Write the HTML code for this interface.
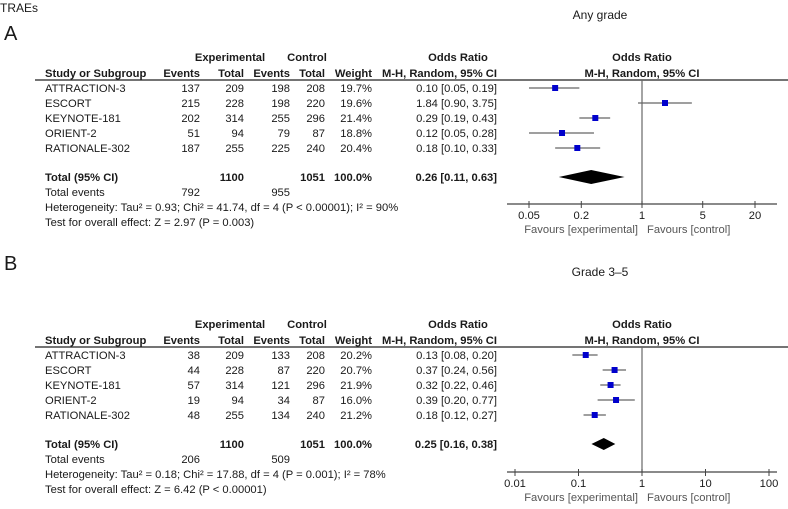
<!DOCTYPE html>
<html><head><meta charset="utf-8"><style>
body{margin:0;background:#fff;width:788px;height:504px;overflow:hidden}
svg text{font-family:"Liberation Sans",Arial,sans-serif;font-size:11.2px;fill:#1a1a1a}
.b{font-weight:bold}
</style></head><body>
<svg id="s" width="788" height="504" xmlns="http://www.w3.org/2000/svg">
<text x="0" y="12" style="font-size:12px">TRAEs</text>
<text x="4" y="40" style="font-size:20px">A</text>
<text x="600" y="19" text-anchor="middle" style="font-size:12px">Any grade</text>
<text x="4" y="270" style="font-size:20px">B</text>
<text x="600" y="276" text-anchor="middle" style="font-size:12px">Grade 3–5</text>
</svg>
<script>
const studies=["ATTRACTION-3","ESCORT","KEYNOTE-181","ORIENT-2","RATIONALE-302"];
const aExpEv=[137,215,202,51,187], aExpTot=[209,228,314,94,255], aCtlEv=[198,198,255,79,225], aCtlTot=[208,220,296,87,240];
const aWeight=["19.7%","19.6%","21.4%","18.8%","20.4%"];
const aOR=[0.10,1.84,0.29,0.12,0.18], aLo=[0.05,0.90,0.19,0.05,0.10], aHi=[0.19,3.75,0.43,0.28,0.33];
const aTotal=[0.26,0.11,0.63];
const aTicks=[0.05,0.2,1,5,20];
const bExpEv=[38,44,57,19,48], bExpTot=[209,228,314,94,255], bCtlEv=[133,87,121,34,134], bCtlTot=[208,220,296,87,240];
const bWeight=["20.2%","20.7%","21.9%","16.0%","21.2%"];
const bOR=[0.13,0.37,0.32,0.39,0.18], bLo=[0.08,0.24,0.22,0.20,0.12], bHi=[0.20,0.56,0.46,0.77,0.27];
const bTotal=[0.25,0.16,0.38];
const bTicks=[0.01,0.1,1,10,100];
const NS="http://www.w3.org/2000/svg", svg=document.getElementById('s');
function el(tag,attrs,txt){const e=document.createElementNS(NS,tag);for(const k in attrs)e.setAttribute(k,attrs[k]);if(txt!=null)e.textContent=txt;svg.appendChild(e);return e;}
function f2(v){return v.toFixed(2);}
function panel(p,y0,axY,ev,et,cv,ct,w,or,lo,hi,tot,ticks,lmax,pxMax,totE,totC,het,test){
  const X=v=>642+Math.log(v)/Math.log(lmax)*(pxMax-642);
  let t;
  t=el('text',{x:230,y:y0,'text-anchor':'middle',class:'b'},'Experimental');
  t=el('text',{x:307,y:y0,'text-anchor':'middle',class:'b'},'Control');
  t=el('text',{x:458,y:y0,'text-anchor':'middle',class:'b'},'Odds Ratio');
  t=el('text',{x:642,y:y0,'text-anchor':'middle',class:'b'},'Odds Ratio');
  const y1=y0+16;
  [['Study or Subgroup',45,'start'],['Events',200,'end'],['Total',244,'end'],['Events',290,'end'],['Total',325,'end'],['Weight',372,'end'],['M-H, Random, 95% CI',497,'end'],['M-H, Random, 95% CI',642,'middle']].forEach((h,i)=>{
    t=el('text',{x:h[1],y:y1,'text-anchor':h[2],class:'b'},h[0]);});
  t=el('line',{x1:35,y1:y1+3,x2:788,y2:y1+3,stroke:'#222','stroke-width':1.2});
  t=el('line',{x1:642,y1:y1+3,x2:642,y2:axY,stroke:'#666','stroke-width':1.2});
  studies.forEach((s,i)=>{
    const y=y1+15+i*15;
    [[s,45,'start'],[ev[i],200,'end'],[et[i],244,'end'],[cv[i],290,'end'],[ct[i],325,'end'],[w[i],372,'end'],[f2(or[i])+' ['+f2(lo[i])+', '+f2(hi[i])+']',497,'end']].forEach((c,j)=>{
      t=el('text',{x:c[1],y:y,'text-anchor':c[2]},c[0]);});
    t=el('line',{x1:X(lo[i]),y1:y-4,x2:X(hi[i]),y2:y-4,stroke:'#666','stroke-width':1.3});
    t=el('rect',{x:X(or[i])-3,y:y-7,width:6,height:6,fill:'#0000cc'});
  });
  const ty=y1+104;
  [['Total (95% CI)',45,'start'],['1100',244,'end'],['1051',325,'end'],['100.0%',372,'end'],[f2(tot[0])+' ['+f2(tot[1])+', '+f2(tot[2])+']',497,'end']].forEach((c,j)=>{
    t=el('text',{x:c[1],y:ty,'text-anchor':c[2],class:'b'},c[0]);});
  const dy=ty-4,dh=p==='a'?7:6;
  t=el('polygon',{points:`${X(tot[1])},${dy} ${X(tot[0])},${dy-dh} ${X(tot[2])},${dy} ${X(tot[0])},${dy+dh}`,fill:'#000'});
  t=el('text',{x:45,y:ty+15},'Total events');
  t=el('text',{x:200,y:ty+15,'text-anchor':'end'},totE);
  t=el('text',{x:290,y:ty+15,'text-anchor':'end'},totC);
  t=el('text',{x:45,y:ty+30},het);
  t=el('text',{x:45,y:ty+45},test);
  t=el('line',{x1:507,y1:axY,x2:777,y2:axY,stroke:'#444','stroke-width':1.2});
  ticks.forEach((v,i)=>{
    t=el('line',{x1:X(v),y1:axY-3,x2:X(v),y2:axY+4,stroke:'#444'});
    t=el('text',{x:X(v),y:axY+15,'text-anchor':'middle'},String(v));
  });
  t=el('text',{x:638,y:axY+29,'text-anchor':'end',style:'fill:#555'},'Favours [experimental]');
  t=el('text',{x:647,y:axY+29,style:'fill:#555'},'Favours [control]');
}
panel('a',61,204,aExpEv,aExpTot,aCtlEv,aCtlTot,aWeight,aOR,aLo,aHi,aTotal,aTicks,20,755,'792','955','Heterogeneity: Tau² = 0.93; Chi² = 41.74, df = 4 (P < 0.00001); I² = 90%','Test for overall effect: Z = 2.97 (P = 0.003)');
panel('b',328,472,bExpEv,bExpTot,bCtlEv,bCtlTot,bWeight,bOR,bLo,bHi,bTotal,bTicks,100,769,'206','509','Heterogeneity: Tau² = 0.18; Chi² = 17.88, df = 4 (P = 0.001); I² = 78%','Test for overall effect: Z = 6.42 (P < 0.00001)');
</script>
</body></html>
